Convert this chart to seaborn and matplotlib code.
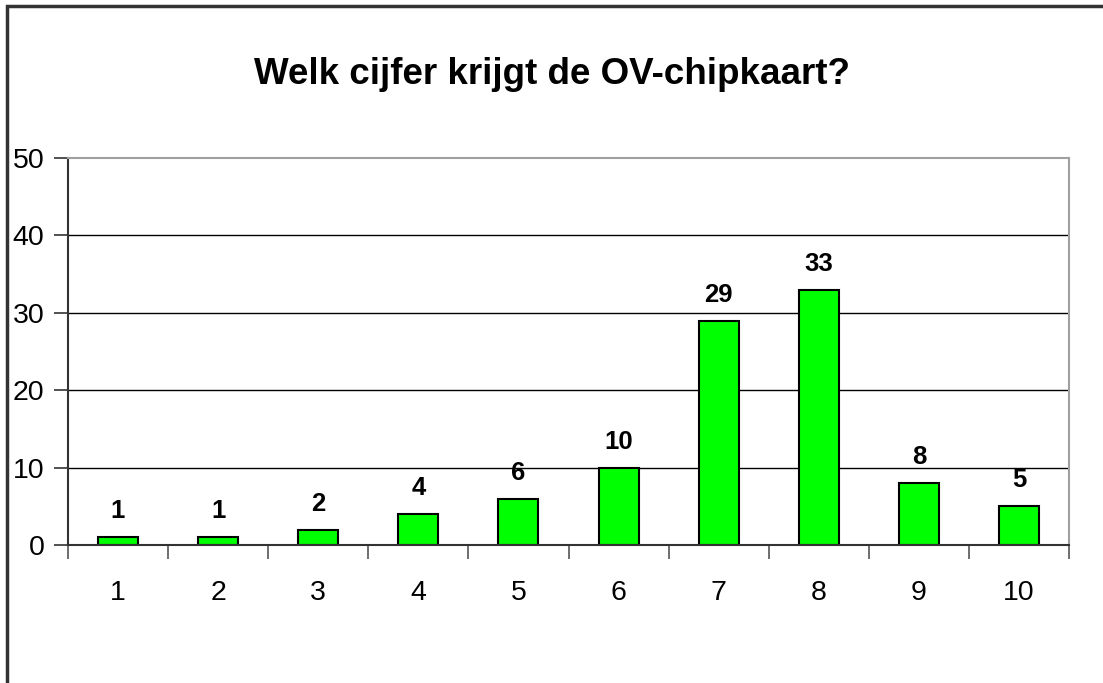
import pandas as pd
import matplotlib.pyplot as plt
import seaborn as sns
from matplotlib.patches import Rectangle
from matplotlib.ticker import FixedLocator

# data
grades = ['1', '2', '3', '4', '5', '6', '7', '8', '9', '10']
counts = [1, 1, 2, 4, 6, 10, 29, 33, 8, 5]
title = 'Welk cijfer krijgt de OV-chipkaart?'

df = pd.DataFrame({'cijfer': grades, 'aantal': counts})

sns.set_style('white')
plt.rcParams['font.family'] = ['Liberation Sans', 'DejaVu Sans']
plt.rcParams['text.color'] = 'black'
plt.rcParams['xtick.color'] = 'black'
plt.rcParams['ytick.color'] = 'black'

fig = plt.figure(figsize=(11.03, 6.83), dpi=100)
ax = fig.add_axes([68 / 1103, 138 / 683, (1069 - 68) / 1103, (545 - 158) / 683])

sns.barplot(data=df, x='cijfer', y='aantal', order=grades, color='#00FF00',
            saturation=1, edgecolor='black', linewidth=1.5, width=0.4, ax=ax)

ax.set_ylim(0, 50)
ax.set_xlim(-0.5, len(grades) - 0.5)
ax.set_yticks([0, 10, 20, 30, 40, 50])
ax.set_xlabel('')
ax.set_ylabel('')

# gridlines
for y in [10, 20, 30, 40]:
    ax.axhline(y, color='black', linewidth=1, zorder=0)
ax.set_axisbelow(True)

# spines
ax.spines['left'].set_color('#333333')
ax.spines['bottom'].set_color('#333333')
ax.spines['top'].set_color('#a0a0a0')
ax.spines['right'].set_color('#a0a0a0')
for s in ax.spines.values():
    s.set_linewidth(1.5)

# ticks
ax.tick_params(axis='y', direction='out', length=10, width=1.2, color='#333333',
               labelsize=20.5, pad=7, left=True, labelcolor='black')
ax.tick_params(axis='x', which='major', length=0, labelsize=20.5, pad=25,
               labelcolor='black')
ax.xaxis.set_minor_locator(FixedLocator([i + 0.5 for i in range(-1, len(grades))]))
ax.tick_params(axis='x', which='minor', direction='out', length=10, width=1.2,
               color='#555555', bottom=True)

# value labels
for cont in ax.containers:
    ax.bar_label(cont, labels=[str(v) for v in counts], padding=10,
                 fontsize=18.5, fontweight='bold', color='black')

fig.text(0.5, 1 - 75 / 683, title, ha='center', va='center',
         fontsize=26.5, fontweight='bold', color='black')

# outer frame (left and top edges visible)
fig.patches.append(Rectangle((7 / 1103, -0.05), 1.1, 1 - 6 / 683 + 0.05,
                             transform=fig.transFigure, fill=False,
                             edgecolor='#333333', linewidth=2.5))

fig.savefig('out.png', dpi=100)
